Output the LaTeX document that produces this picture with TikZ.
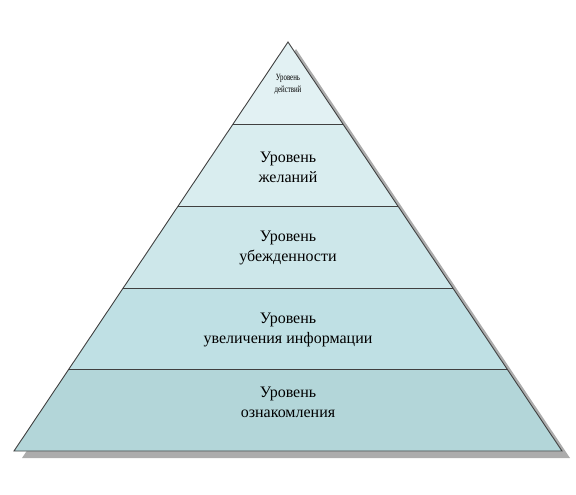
\documentclass[tikz,border=0pt]{standalone}
\usepackage{fontspec}
\setmainfont{Liberation Serif}
\begin{document}
\begin{tikzpicture}[x=1pt,y=-1pt,
  edge/.style={draw=black!75,line width=0.9pt},
  lbl/.style={font=\fontsize{16}{20}\selectfont,align=center,text=black},
  tier/.style={fill=#1}]
\useasboundingbox (0,0) rectangle (576,495);
\definecolor{c1}{HTML}{E2F1F3}
\definecolor{c2}{HTML}{D9EDEF}
\definecolor{c3}{HTML}{CDE7EA}
\definecolor{c4}{HTML}{BFE0E4}
\definecolor{c5}{HTML}{B3D6D9}
% geometry: apex (288,42), base y=451 from 14 to 562
\coordinate (A) at (288,42);
\coordinate (L) at (14,451);
\coordinate (R) at (562,451);
% shadow
\fill[gray!65] (296,49) -- (570,458) -- (22,458) -- cycle;
\fill[white] (A) -- (R) -- (L) -- cycle;
% tiers: half width at y = (y-42)*274/409
\def\hw#1{\fpeval{(#1-42)*274/409}}
\fill[c1] (A) -- ({288+\hw{124}},124) -- ({288-\hw{124}},124) -- cycle;
\fill[c2] ({288-\hw{124}},124) -- ({288+\hw{124}},124) -- ({288+\hw{206}},206) -- ({288-\hw{206}},206) -- cycle;
\fill[c3] ({288-\hw{206}},206) -- ({288+\hw{206}},206) -- ({288+\hw{288}},288) -- ({288-\hw{288}},288) -- cycle;
\fill[c4] ({288-\hw{288}},288) -- ({288+\hw{288}},288) -- ({288+\hw{369}},369) -- ({288-\hw{369}},369) -- cycle;
\fill[c5] ({288-\hw{369}},369) -- ({288+\hw{369}},369) -- (R) -- (L) -- cycle;
\foreach \yy in {124,206,288,369}{
  \draw[edge] ({288-\hw{\yy}},\yy) -- ({288+\hw{\yy}},\yy);
}
\draw[edge,line join=miter] (A) -- (R) -- (L) -- cycle;
% labels
\node[align=center,font=\fontsize{9.5}{12}\selectfont,xscale=0.72,inner sep=0] (t1) at (288,84) {Уровень\\действий};
\node[lbl] (t2) at (288,167) {Уровень\\желаний};
\node[lbl] (t3) at (288,248) {Уровень\\убежденности};
\node[lbl] (t4) at (288,330) {Уровень\\увеличения информации};
\node[lbl] (t5) at (288,402) {Уровень\\ознакомления};
\end{tikzpicture}
\end{document}
